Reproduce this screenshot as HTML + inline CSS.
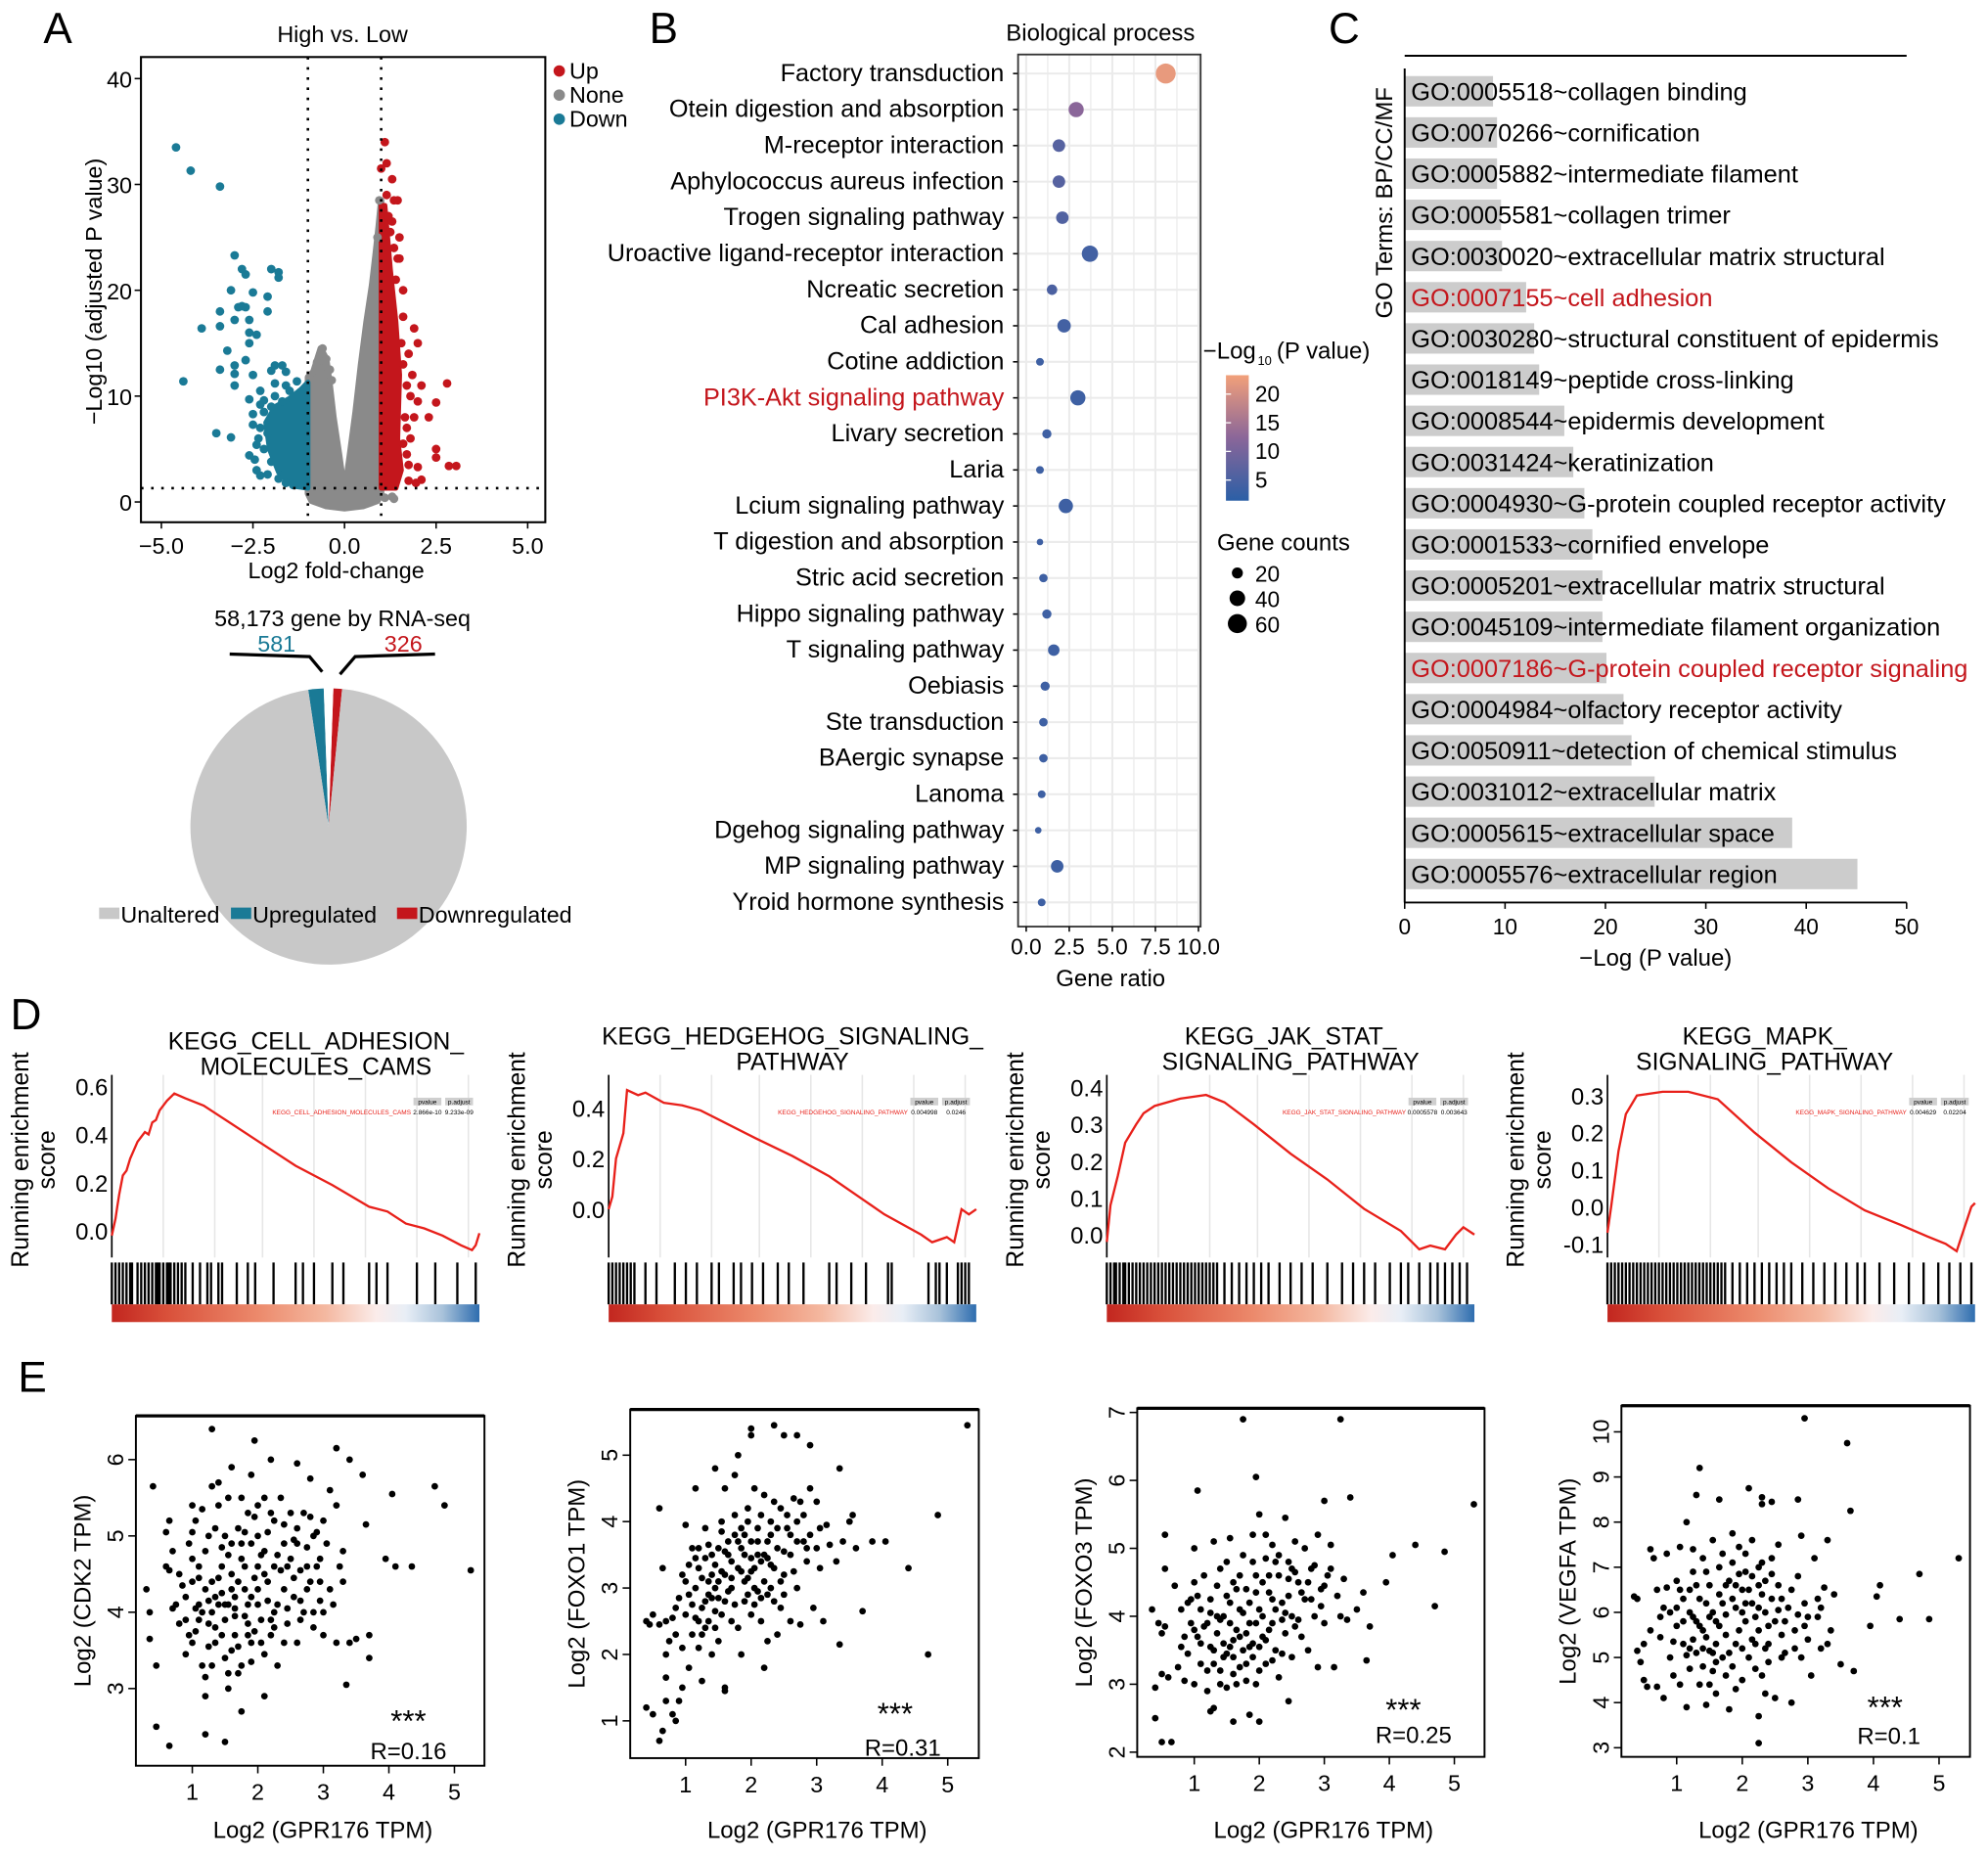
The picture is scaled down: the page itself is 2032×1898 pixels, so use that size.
<!DOCTYPE html>
<html><head><meta charset="utf-8">
<style>
html,body{margin:0;padding:0;background:#fff;}
svg{display:block;font-family:"Liberation Sans",Arial,sans-serif;}
</style></head>
<body>
<svg id="fig" xmlns="http://www.w3.org/2000/svg" width="2032" height="1898" viewBox="0 0 1568 1465">
<defs>
<linearGradient id="pgrad" x1="0" y1="1" x2="0" y2="0"><stop offset="0" stop-color="#2b5fa6"/><stop offset="0.5" stop-color="#8a6699"/><stop offset="1" stop-color="#f2a07a"/></linearGradient>
<linearGradient id="heat" x1="0" y1="0" x2="1" y2="0"><stop offset="0" stop-color="#c2261f"/><stop offset="0.15" stop-color="#d9503a"/><stop offset="0.4" stop-color="#ec8a6c"/><stop offset="0.58" stop-color="#f4b8a0"/><stop offset="0.72" stop-color="#fbecea"/><stop offset="0.8" stop-color="#e8eef6"/><stop offset="0.9" stop-color="#a8c2da"/><stop offset="1" stop-color="#2e6daf"/></linearGradient>
</defs>
<g id="root"></g>
</svg>
<script>
// ---------- DATA ----------
const volcanoBlue=[[-4.6,33.5],[-4.2,31.3],[-3.4,29.8],[-4.4,11.4],[-3.5,6.5],[-3.1,6.1],[-3.0,23.3],[-2.8,22],[-2.7,21.5],[-2.0,22],[-1.8,21.7],[-1.8,21.2],[-3.1,20],[-2.5,19.8],[-2.1,19.4],[-3.4,18],[-2.9,18.4],[-2.8,18.5],[-2.7,18.4],[-2.1,18],[-3.9,16.4],[-3.4,16.6],[-3.0,17.2],[-2.6,17.2],[-2.6,16],[-2.4,15.8],[-2.6,15],[-3.2,14.3],[-2.7,13.4],[-3.0,12.9],[-3.4,12.5],[-3.0,12.1],[-2.5,12],[-2.0,12.4],[-1.9,12.9],[-1.7,12.9],[-1.6,12.3],[-3.0,11.0],[-2.3,10.5],[-1.3,11.4],[-2.6,9.7],[-2.3,9.2],[-2.5,7.3],[-2.4,5.4],[-2.6,4.4],[-2.4,3.0],[-2.3,2.5],[-1.5,10.5],[-1.9,10.0],[-1.2,10.4],[-2.2,8.5],[-2.0,9.0],[-1.7,9.5],[-2.1,6.5],[-2.2,5.0],[-2.0,3.8],[-1.8,2.2],[-1.6,1.8],[-1.4,1.6],[-2.3,7.0],[-2.35,6.0],[-2.2,9.6],[-1.9,11.2],[-1.6,11.0],[-2.5,8.3],[-2.45,4.0],[-2.1,2.6]];
const volcanoBlueArea=[[-1,1.3],[-1.4,1.5],[-1.8,2.8],[-2.05,5.0],[-2.15,7.5],[-1.9,9.0],[-1.5,9.8],[-1.2,10.6],[-1,11.3]];
const volcanoGrayArea=[[-1,0.8],[-1,11.8],[-0.85,12.3],[-0.65,14.5],[-0.5,13.5],[-0.4,11],[-0.3,8],[-0.15,4.5],[-0.05,2],[0.05,2],[0.15,4.5],[0.3,8.5],[0.45,13],[0.6,17],[0.75,20.5],[0.85,23.5],[0.93,26],[1.0,28.5],[1.0,0.8],[0.9,0.1],[0.5,-0.4],[0,-0.6],[-0.5,-0.4],[-0.9,0.1]];
const volcanoGray=[[-0.6,14.5],[-0.5,13.5],[-0.4,12.5],[-0.55,12],[1.3,0.5],[1.35,0.3],[0.95,28.5],[0.9,25],[-0.7,12.8],[1.1,0.4],[-0.75,13.2],[-0.35,11.5]];
const volcanoRedArea=[[1,1.3],[1,28],[1.1,28],[1.25,22],[1.4,17],[1.5,12],[1.45,6],[1.55,3],[1.4,1.3]];
const volcanoRed=[[1.1,34],[1.15,32],[1.0,31.5],[1.3,30.5],[1.15,29],[1.45,28.5],[1.35,28.5],[1.2,27],[1.3,26.5],[1.25,25.5],[1.45,23],[1.5,23],[1.6,17.5],[1.9,16.4],[2.0,15],[1.75,14],[2.1,11],[2.8,11.2],[2.0,9.5],[2.5,9.4],[1.9,8],[2.3,8],[1.8,6],[2.5,5],[2.5,4.2],[2.85,3.4],[3.05,3.4],[2.1,2.1],[1.95,1.8],[2.0,3.3],[1.7,4.5],[1.7,11],[1.8,10],[1.65,8],[1.75,2.0],[1.6,20],[1.4,21],[1.55,15],[1.6,13],[1.7,7],[1.6,5.5],[1.75,3.5],[1.85,12],[1.5,25],[1.35,24]];
const volcanoXTicks=[-5,-2.5,0,2.5,5];
const volcanoXTickLabels=["−5.0","−2.5","0.0","2.5","5.0"];
const volcanoYTicks=[0,10,20,30,40];
const pieLabels=["Unaltered","Upregulated","Downregulated"];
const pieValues=[57266,581,326];
const bpTerms=["Factory transduction","Otein digestion and absorption","M-receptor interaction","Aphylococcus aureus infection","Trogen signaling pathway","Uroactive ligand-receptor interaction","Ncreatic secretion","Cal adhesion","Cotine addiction","PI3K-Akt signaling pathway","Livary secretion","Laria","Lcium signaling pathway","T digestion and absorption","Stric acid secretion","Hippo signaling pathway","T signaling pathway","Oebiasis","Ste transduction","BAergic synapse","Lanoma","Dgehog signaling pathway","MP signaling pathway","Yroid hormone synthesis"];
const bpRatio=[8.1,2.9,1.9,1.9,2.1,3.7,1.5,2.2,0.8,3.0,1.2,0.8,2.3,0.8,1.0,1.2,1.6,1.1,1.0,1.0,0.9,0.7,1.8,0.9];
const bpLogP=[21,12,6.5,6.5,6,4.5,5.5,4.5,4,4,4,4,4,4,4,4,4,4,4,4,4,4,4,4];
const bpCount=[66,38,26,26,26,44,18,30,10,38,14,10,34,7,12,14,22,14,12,12,10,7,26,10];
const bpXTicks=[0,2.5,5,7.5,10];
const bpXTickLabels=["0.0","2.5","5.0","7.5","10.0"];
const bpColorTicks=[20,15,10,5];
const bpSizeTicks=[20,40,60];
const goTerms=["GO:0005518~collagen binding","GO:0070266~cornification","GO:0005882~intermediate filament","GO:0005581~collagen trimer","GO:0030020~extracellular matrix structural","GO:0007155~cell adhesion","GO:0030280~structural constituent of epidermis","GO:0018149~peptide cross-linking","GO:0008544~epidermis development","GO:0031424~keratinization","GO:0004930~G-protein coupled receptor activity","GO:0001533~cornified envelope","GO:0005201~extracellular matrix structural","GO:0045109~intermediate filament organization","GO:0007186~G-protein coupled receptor signaling","GO:0004984~olfactory receptor activity","GO:0050911~detection of chemical stimulus","GO:0031012~extracellular matrix","GO:0005615~extracellular space","GO:0005576~extracellular region"];
const goValues=[8.8,9.2,9.2,9.6,9.7,12.1,12.9,13.4,15.9,16.8,17.9,18.7,19.7,19.7,20.1,21.8,22.6,24.9,38.6,45.1];
const goHighlight=[5,14];
const goXTicks=[0,10,20,30,40,50];
const gseaTitles=[["KEGG_CELL_ADHESION_","MOLECULES_CAMS"],["KEGG_HEDGEHOG_SIGNALING_","PATHWAY"],["KEGG_JAK_STAT_","SIGNALING_PATHWAY"],["KEGG_MAPK_","SIGNALING_PATHWAY"]];
const gseaNames=["KEGG_CELL_ADHESION_MOLECULES_CAMS","KEGG_HEDGEHOG_SIGNALING_PATHWAY","KEGG_JAK_STAT_SIGNALING_PATHWAY","KEGG_MAPK_SIGNALING_PATHWAY"];
const gseaP=["2.866e-10","0.004998","0.0005578","0.004629"];
const gseaPadj=["9.233e-09","0.0246","0.003643","0.02204"];
const gseaTicks1=[0,0.2,0.4,0.6];
const gseaTicks2=[0,0.2,0.4];
const gseaTicks3=[0,0.1,0.2,0.3,0.4];
const gseaTicks4=[-0.1,0,0.1,0.2,0.3];
const gseaCurve1=[[0,-0.02],[0.01,0.05],[0.015,0.1],[0.02,0.15],[0.03,0.23],[0.04,0.25],[0.05,0.3],[0.07,0.37],[0.08,0.39],[0.09,0.41],[0.1,0.4],[0.11,0.45],[0.12,0.46],[0.13,0.5],[0.15,0.54],[0.17,0.57],[0.2,0.55],[0.25,0.52],[0.3,0.47],[0.4,0.37],[0.5,0.27],[0.6,0.19],[0.7,0.1],[0.75,0.08],[0.8,0.03],[0.85,0.01],[0.9,-0.02],[0.95,-0.06],[0.98,-0.08],[0.99,-0.06],[1.0,-0.01]];
const gseaCurve2=[[0,0.0],[0.01,0.05],[0.02,0.2],[0.03,0.25],[0.04,0.3],[0.05,0.47],[0.08,0.45],[0.1,0.46],[0.15,0.42],[0.2,0.41],[0.25,0.39],[0.4,0.28],[0.5,0.21],[0.6,0.13],[0.7,0.03],[0.75,-0.02],[0.8,-0.06],[0.85,-0.1],[0.88,-0.13],[0.92,-0.11],[0.94,-0.13],[0.96,0.0],[0.98,-0.02],[1.0,0.0]];
const gseaCurve3=[[0,-0.02],[0.01,0.08],[0.03,0.16],[0.05,0.25],[0.08,0.3],[0.1,0.33],[0.13,0.35],[0.2,0.37],[0.27,0.38],[0.32,0.36],[0.4,0.3],[0.5,0.22],[0.6,0.15],[0.7,0.07],[0.8,0.01],[0.85,-0.04],[0.88,-0.03],[0.92,-0.04],[0.95,0.0],[0.97,0.02],[1.0,0.0]];
const gseaCurve4=[[0,-0.07],[0.01,0.0],[0.03,0.15],[0.05,0.25],[0.08,0.3],[0.15,0.31],[0.22,0.31],[0.3,0.29],[0.4,0.2],[0.5,0.12],[0.6,0.05],[0.7,-0.01],[0.8,-0.05],[0.87,-0.08],[0.92,-0.1],[0.95,-0.12],[0.97,-0.06],[0.99,0.0],[1.0,0.01]];
const gseaHits1=[0,0.01,0.02,0.03,0.04,0.05,0.055,0.07,0.08,0.09,0.1,0.11,0.12,0.125,0.13,0.14,0.15,0.155,0.16,0.17,0.18,0.19,0.2,0.22,0.24,0.26,0.27,0.29,0.3,0.34,0.37,0.39,0.44,0.5,0.52,0.55,0.6,0.63,0.7,0.72,0.75,0.83,0.88,0.94,0.99];
const gseaHits2=[0,0.01,0.02,0.03,0.04,0.05,0.06,0.07,0.1,0.13,0.18,0.21,0.24,0.28,0.3,0.34,0.36,0.39,0.42,0.46,0.49,0.53,0.6,0.62,0.66,0.7,0.76,0.77,0.87,0.89,0.9,0.92,0.95,0.96,0.97,0.98];
const gseaHits3=[0,0.01,0.02,0.025,0.035,0.045,0.05,0.06,0.07,0.08,0.09,0.1,0.11,0.12,0.13,0.14,0.15,0.16,0.17,0.18,0.19,0.2,0.21,0.22,0.23,0.24,0.25,0.26,0.27,0.28,0.29,0.3,0.32,0.34,0.36,0.38,0.4,0.42,0.44,0.47,0.5,0.53,0.56,0.6,0.64,0.67,0.7,0.73,0.77,0.8,0.82,0.85,0.88,0.9,0.92,0.94,0.96,0.98];
const gseaHits4=[0,0.01,0.02,0.03,0.04,0.05,0.06,0.07,0.08,0.09,0.1,0.11,0.12,0.13,0.14,0.15,0.16,0.17,0.18,0.19,0.2,0.21,0.22,0.23,0.24,0.25,0.26,0.27,0.28,0.29,0.3,0.31,0.32,0.34,0.36,0.38,0.4,0.42,0.44,0.46,0.48,0.5,0.53,0.56,0.59,0.62,0.65,0.68,0.7,0.74,0.78,0.82,0.86,0.9,0.93,0.96,0.99];
const gseaGrid=[0.14,0.28,0.41,0.55,0.69,0.83,0.97];
const sc1=[[0.4,5.65],[0.3,4.3],[0.35,4.0],[0.35,3.65],[0.45,3.3],[0.45,2.5],[0.65,2.25],[1.2,2.4],[1.5,2.3],[1.75,2.7],[1.2,2.9],[2.1,2.9],[3.35,3.05],[4.7,5.65],[4.85,5.4],[5.25,4.55],[4.1,4.6],[4.35,4.6],[3.95,4.7],[1.3,6.4],[1.95,6.25],[3.2,6.15],[3.4,6.0],[3.6,5.8],[3.7,3.4],[4.05,5.55],[3.65,5.15],[3.7,3.7],[3.4,3.6],[3.5,3.65],[0.6,5.05],[0.65,5.2],[0.6,4.6],[0.65,4.55],[0.7,4.8],[0.8,4.5],[0.75,4.1],[0.7,4.05],[0.8,3.85],[0.9,4.2],[0.95,3.7],[1.0,3.6],[0.9,3.45],[1.0,4.4],[1.0,4.7],[1.0,5.05],[1.0,5.4],[1.05,5.2],[1.1,4.6],[1.1,4.1],[1.1,3.9],[1.15,3.3],[1.2,3.15],[1.25,3.55],[1.2,4.3],[1.2,4.8],[1.25,5.0],[1.3,5.65],[1.3,4.4],[1.3,4.0],[1.35,3.8],[1.4,5.4],[1.4,5.7],[1.45,4.85],[1.45,4.6],[1.5,4.1],[1.5,3.9],[1.5,3.4],[1.55,3.2],[1.55,5.5],[1.6,5.9],[1.6,4.9],[1.6,4.5],[1.65,4.2],[1.65,3.7],[1.7,3.2],[1.7,5.1],[1.75,5.5],[1.75,4.7],[1.8,4.3],[1.8,3.95],[1.85,3.7],[1.85,5.3],[1.9,5.8],[1.9,4.9],[1.9,4.2],[1.95,3.75],[2.0,5.0],[2.0,4.6],[2.0,4.1],[2.05,3.6],[2.1,5.5],[2.1,4.8],[2.15,4.4],[2.2,3.9],[2.2,6.0],[2.25,5.2],[2.25,4.6],[2.3,4.1],[2.3,3.3],[2.35,5.5],[2.4,4.9],[2.4,4.3],[2.45,3.85],[2.5,5.3],[2.5,4.7],[2.55,4.2],[2.6,5.95],[2.6,3.6],[2.65,4.55],[2.7,5.3],[2.7,4.0],[2.75,4.85],[2.8,5.75],[2.8,4.4],[2.85,3.8],[2.9,5.05],[2.9,4.6],[2.95,4.15],[3.0,5.2],[3.0,3.7],[3.05,4.9],[3.1,5.6],[3.1,4.3],[3.2,3.6],[3.2,5.4],[3.25,4.6],[3.3,4.4],[3.3,4.8],[1.35,4.2],[1.55,4.1],[1.7,4.4],[2.0,4.3],[2.1,4.5],[1.8,4.6],[1.4,4.1],[2.3,4.75],[2.6,4.9],[1.95,5.25],[1.15,4.0],[2.45,4.6],[1.05,4.05],[1.25,4.15],[1.45,4.25],[1.65,4.05],[1.85,4.1],[2.05,4.75],[2.25,4.0],[2.55,4.95],[2.75,4.3],[2.95,4.7],[1.6,3.5],[1.9,3.6],[2.2,3.7],[1.35,3.6],[1.75,3.3],[2.15,5.05],[1.5,5.0],[2.85,5.0],[0.85,4.35],[0.95,4.9],[1.15,5.35],[1.35,5.1],[1.55,4.75],[1.75,4.9],[1.95,4.45],[2.15,4.15],[2.35,4.55],[2.55,4.45],[2.75,4.6],[2.95,4.4],[1.05,3.75],[1.25,3.85],[1.45,3.7],[1.65,3.95],[1.85,3.85],[2.05,3.9],[2.25,3.8],[2.45,4.05],[2.65,4.15],[2.85,4.0],[1.4,4.45],[1.6,4.3],[1.8,5.05],[2.0,5.4],[2.2,5.3],[2.4,5.15],[2.6,5.1],[2.8,5.25],[1.7,3.55],[1.9,3.35],[2.1,3.45],[2.4,3.6],[1.3,3.3],[1.55,3.0],[2.65,3.9],[3.0,4.0],[3.15,4.1],[1.1,4.45],[0.9,3.9]];
const sc2=[[0.4,1.2],[0.5,1.1],[0.6,0.7],[0.65,0.85],[0.7,1.3],[0.8,1.1],[0.85,1.0],[0.9,1.3],[0.95,1.5],[0.7,1.65],[0.7,2.0],[0.6,4.2],[5.3,5.45],[4.85,4.1],[4.7,2.0],[4.4,3.3],[3.7,2.65],[3.35,2.15],[3.35,4.8],[1.6,1.5],[1.6,1.45],[2.2,1.8],[2.0,5.4],[2.35,5.45],[2.5,5.3],[2.7,5.3],[2.9,5.15],[2.0,5.3],[1.8,5.0],[3.85,3.7],[4.05,3.7],[0.4,2.5],[0.45,2.45],[0.5,2.6],[0.6,2.45],[0.65,3.3],[0.7,2.5],[0.8,2.55],[0.85,2.3],[0.9,2.85],[0.95,3.2],[0.95,2.1],[1.0,2.6],[1.0,3.95],[1.05,2.9],[1.05,1.8],[1.1,3.6],[1.1,2.3],[1.15,4.5],[1.15,3.0],[1.2,3.3],[1.2,2.1],[1.25,2.7],[1.25,1.6],[1.3,3.9],[1.3,2.4],[1.35,3.1],[1.35,2.9],[1.4,3.5],[1.4,2.0],[1.45,4.8],[1.45,2.65],[1.5,3.6],[1.5,2.2],[1.55,3.25],[1.55,4.0],[1.6,2.8],[1.6,4.5],[1.65,3.5],[1.7,2.5],[1.7,3.0],[1.75,4.7],[1.75,3.8],[1.8,3.3],[1.8,2.4],[1.85,3.9],[1.85,2.0],[1.9,3.5],[1.9,2.8],[1.95,4.2],[1.95,3.15],[2.0,3.7],[2.0,2.6],[2.05,3.3],[2.05,4.5],[2.1,2.95],[2.1,3.9],[2.15,3.4],[2.15,2.5],[2.2,4.4],[2.2,3.1],[2.25,3.7],[2.25,2.2],[2.3,3.35],[2.3,4.0],[2.35,2.8],[2.4,3.6],[2.4,2.3],[2.45,4.2],[2.5,3.2],[2.5,2.9],[2.55,3.9],[2.6,3.5],[2.6,2.5],[2.65,4.35],[2.7,3.7],[2.7,3.0],[2.75,2.45],[2.8,4.1],[2.85,3.4],[2.9,4.5],[2.9,3.8],[2.95,2.7],[3.0,3.6],[3.0,4.3],[3.05,3.3],[3.1,2.5],[3.15,3.95],[3.2,3.65],[3.3,3.4],[3.4,3.7],[3.5,4.0],[3.6,3.6],[3.55,4.1],[1.2,3.6],[1.3,2.8],[1.5,3.1],[1.7,3.4],[1.9,3.1],[2.1,3.5],[2.3,3.0],[1.6,3.2],[2.0,3.25],[1.4,2.85],[1.1,2.75],[1.25,3.15],[1.45,3.35],[1.65,3.7],[1.85,3.6],[2.05,3.0],[2.25,3.45],[2.45,3.1],[2.65,3.25],[2.85,3.6],[1.35,2.5],[1.55,2.6],[1.75,2.75],[1.95,2.9],[2.15,2.85],[2.35,3.3],[1.2,2.5],[1.0,3.1],[1.05,3.35],[1.15,2.55],[1.3,3.45],[1.4,3.2],[1.5,2.85],[1.6,3.55],[1.7,3.15],[1.8,3.7],[1.9,3.8],[2.0,3.45],[2.1,3.7],[2.2,3.5],[2.3,3.8],[2.4,3.9],[2.5,3.55],[2.6,3.8],[2.7,4.0],[2.8,3.7],[1.45,3.0],[1.65,2.95],[1.85,3.25],[2.05,2.75],[2.25,2.9],[2.45,2.7],[1.15,3.45],[1.35,3.65],[1.55,3.85],[1.75,4.1],[1.95,4.0],[2.15,4.1],[2.35,4.3],[2.55,4.1],[2.75,4.3],[3.05,3.9],[1.25,2.3],[1.45,2.4],[0.85,2.7],[0.75,2.2]];
const sc3=[[0.35,4.1],[0.4,2.5],[0.5,2.15],[0.65,2.15],[0.4,2.95],[0.5,3.15],[0.55,5.2],[0.55,4.7],[1.05,5.85],[1.75,6.9],[3.25,6.9],[1.95,6.05],[5.3,5.65],[4.85,4.95],[4.7,4.15],[4.4,5.05],[4.05,4.9],[3.95,4.5],[3.7,3.85],[3.65,3.35],[3.4,5.75],[3.0,5.7],[1.6,2.45],[2.0,2.45],[1.85,2.55],[2.45,2.75],[1.25,2.6],[1.3,2.65],[0.45,3.9],[0.5,3.75],[0.55,3.85],[0.6,3.1],[0.7,4.45],[0.75,3.25],[0.8,3.55],[0.8,4.1],[0.85,3.05],[0.9,4.2],[0.9,3.45],[0.95,3.9],[1.0,4.5],[1.0,3.0],[1.0,5.0],[1.05,3.7],[1.1,4.1],[1.1,3.3],[1.15,4.6],[1.2,3.9],[1.2,2.9],[1.25,4.25],[1.3,3.5],[1.3,5.1],[1.35,4.0],[1.4,3.2],[1.4,4.7],[1.45,3.6],[1.5,4.3],[1.5,2.95],[1.55,3.9],[1.55,5.15],[1.6,3.4],[1.6,4.5],[1.65,3.0],[1.7,4.1],[1.7,3.7],[1.75,4.9],[1.8,3.3],[1.8,4.4],[1.85,3.9],[1.9,5.2],[1.9,3.6],[1.95,4.6],[1.95,3.0],[2.0,4.1],[2.0,5.5],[2.05,3.7],[2.1,4.85],[2.1,3.3],[2.15,4.35],[2.2,3.9],[2.2,5.05],[2.25,3.5],[2.3,4.6],[2.3,3.1],[2.35,4.2],[2.4,5.45],[2.4,3.75],[2.45,4.8],[2.5,4.0],[2.5,3.4],[2.55,5.1],[2.6,4.5],[2.65,3.7],[2.7,4.25],[2.7,5.0],[2.75,3.5],[2.8,4.7],[2.85,4.0],[2.9,3.25],[2.9,5.2],[2.95,4.4],[3.0,3.9],[3.05,4.6],[3.1,5.05],[3.2,4.3],[3.3,4.55],[3.35,3.95],[3.5,4.1],[3.6,4.35],[3.15,3.25],[1.45,4.0],[1.65,3.8],[1.85,4.2],[2.05,4.5],[2.25,4.1],[1.35,3.75],[1.55,3.55],[1.75,3.5],[2.15,3.8],[2.45,4.3],[1.25,3.55],[1.95,3.9],[1.15,3.85],[1.4,3.95],[1.6,3.65],[1.8,3.75],[2.0,3.55],[2.2,4.25],[2.4,4.05],[2.6,3.95],[2.8,4.25],[3.0,4.45],[1.3,3.3],[1.5,3.45],[1.7,3.25],[1.9,3.4],[2.1,3.65],[2.35,3.45],[1.05,4.3],[2.55,4.65],[0.95,4.25],[1.1,3.6],[1.25,4.05],[1.35,4.45],[1.45,3.4],[1.55,4.2],[1.65,4.4],[1.75,4.05],[1.85,3.55],[1.95,4.35],[2.05,4.0],[2.15,4.6],[2.25,4.8],[2.35,3.95],[2.45,4.55],[2.55,3.85],[2.65,4.35],[2.75,4.5],[2.85,4.75],[2.95,4.15],[1.2,3.2],[1.4,3.0],[1.6,3.15],[1.8,3.05],[2.0,3.2],[2.2,3.35],[1.5,4.8],[1.7,4.6],[1.9,4.8],[2.1,5.2],[2.3,4.9],[2.5,4.7],[1.0,3.8],[0.85,3.7],[3.1,4.7],[3.25,4.0]];
const sc4=[[2.95,10.3],[3.6,9.75],[1.35,9.2],[3.65,8.25],[5.3,7.2],[4.7,6.85],[4.85,5.85],[4.4,5.85],[4.05,6.35],[4.1,6.6],[3.95,5.7],[2.25,3.1],[2.25,3.7],[3.7,4.7],[3.5,4.85],[0.35,6.35],[0.4,6.3],[1.3,8.6],[1.65,8.5],[2.1,8.75],[2.3,8.55],[2.45,8.45],[2.85,8.5],[2.3,8.4],[0.4,5.15],[0.45,4.9],[0.5,4.5],[0.5,5.3],[0.55,4.35],[0.6,5.6],[0.6,7.4],[0.65,7.2],[0.7,6.5],[0.7,4.35],[0.75,5.45],[0.8,6.1],[0.8,4.1],[0.85,7.3],[0.9,5.0],[0.9,6.0],[0.95,4.6],[1.0,5.7],[1.0,6.7],[1.05,4.4],[1.05,7.45],[1.1,5.3],[1.1,6.3],[1.15,3.9],[1.15,8.0],[1.2,4.75],[1.2,6.0],[1.25,5.9],[1.25,7.4],[1.3,5.1],[1.3,6.6],[1.35,4.4],[1.4,5.6],[1.4,7.2],[1.45,3.95],[1.45,6.2],[1.5,5.15],[1.5,6.6],[1.55,4.7],[1.55,7.6],[1.6,5.8],[1.6,4.2],[1.65,6.4],[1.7,5.0],[1.7,7.3],[1.75,5.5],[1.8,6.7],[1.8,3.85],[1.85,7.75],[1.85,4.8],[1.9,6.1],[1.9,5.3],[1.95,7.45],[2.0,6.5],[2.0,4.5],[2.05,5.8],[2.05,6.9],[2.1,5.0],[2.15,7.6],[2.15,6.2],[2.2,4.75],[2.25,6.6],[2.25,5.6],[2.3,7.1],[2.35,4.2],[2.35,6.0],[2.4,5.3],[2.45,6.85],[2.5,4.1],[2.5,5.8],[2.55,7.5],[2.6,6.3],[2.65,5.1],[2.7,6.1],[2.75,4.0],[2.8,5.6],[2.85,6.8],[2.9,5.0],[2.9,7.7],[2.95,6.2],[3.0,5.4],[3.05,4.6],[3.1,7.2],[3.15,5.9],[3.2,5.2],[3.25,6.55],[3.3,7.6],[3.35,5.6],[3.4,6.4],[3.2,6.1],[1.3,5.8],[1.5,5.9],[1.7,6.2],[1.9,6.6],[2.1,6.5],[2.3,6.4],[2.0,6.0],[1.6,5.3],[2.4,5.7],[1.4,5.2],[2.2,5.9],[2.6,5.5],[1.0,6.1],[1.2,6.5],[1.45,5.45],[1.65,5.7],[1.85,6.3],[2.05,6.2],[2.25,6.1],[2.45,6.3],[2.65,5.8],[2.85,5.95],[1.1,5.8],[1.35,6.3],[1.55,6.0],[1.75,6.6],[1.95,5.6],[2.15,5.4],[2.35,5.2],[2.55,6.6],[1.25,5.4],[1.75,4.6],[0.95,5.35],[1.15,5.05],[1.35,5.7],[1.55,5.1],[1.75,5.95],[1.95,6.85],[2.15,6.8],[2.35,6.7],[2.55,6.05],[2.75,6.5],[2.95,5.7],[3.15,6.3],[1.05,6.5],[1.25,6.9],[1.45,6.9],[1.65,7.0],[1.85,7.1],[2.05,7.3],[2.25,7.0],[2.45,7.2],[1.2,5.2],[1.4,4.8],[1.6,4.9],[1.8,5.1],[2.0,5.2],[2.2,5.3],[2.4,4.9],[2.6,5.0],[2.8,5.2],[3.0,5.9],[1.5,4.4],[1.9,4.3],[2.3,4.6],[0.75,5.9],[0.85,6.55],[3.3,5.3]];
const scXTicks=[1,2,3,4,5];
const scYTicks1=[3,4,5,6];
const scYTicks2=[1,2,3,4,5];
const scYTicks3=[2,3,4,5,6,7];
const scYTicks4=[3,4,5,6,7,8,9,10];
const scYLabels=["Log2 (CDK2 TPM)","Log2 (FOXO1 TPM)","Log2 (FOXO3 TPM)","Log2 (VEGFA TPM)"];
const scR=["R=0.16","R=0.31","R=0.25","R=0.1"];

// ---------- HELPERS ----------
const NS="http://www.w3.org/2000/svg";
const root=document.getElementById('root');
function mk(tag,attrs,parent){const e=document.createElementNS(NS,tag);for(const k in attrs)e.setAttribute(k,attrs[k]);(parent||root).appendChild(e);return e;}
function tx(str,x,y,size,anchor,parent,extra){const e=mk('text',Object.assign({x:x,y:y,'font-size':size,'text-anchor':anchor||'start',fill:'#000'},extra||{}),parent);e.textContent=str;return e;}
function grp(parent){return mk('g',{},parent);}

const letters=[["A",34,34],["B",512,34],["C",1048,34],["D",8,812],["E",14,1098]];
letters.forEach(l=>{const t=tx(l[0],l[1],l[2],34,'start');

});

// ---------- PANEL A: VOLCANO ----------
(function(){
const g=grp();


const L=111,R=430,T=45,B=412;
const ax=v=>271.6+28.9*v, ay=v=>396-8.35*v;
const t=tx("High vs. Low",270,33,18,'middle',g);


const pts=(arr)=>arr.map(p=>ax(p[0]).toFixed(1)+','+ay(p[1]).toFixed(1)).join(' ');
const ga=mk('polygon',{points:pts(volcanoGrayArea),fill:'#8a8a8a',stroke:'#8a8a8a','stroke-width':5,'stroke-linejoin':'round'},g);


const ba=mk('polygon',{points:pts(volcanoBlueArea),fill:'#1a7a96',stroke:'#1a7a96','stroke-width':4,'stroke-linejoin':'round'},g);


const ra=mk('polygon',{points:pts(volcanoRedArea),fill:'#c4161c',stroke:'#c4161c','stroke-width':4,'stroke-linejoin':'round'},g);


[[volcanoGray,'#8a8a8a','none'],[volcanoBlue,'#1a7a96','down'],[volcanoRed,'#c4161c','up']].forEach(s=>{
 s[0].forEach(p=>{const c=mk('circle',{cx:ax(p[0]),cy:ay(p[1]),r:3.4,fill:s[1]},g);
 
 });
});
[-1,1].forEach(v=>{const l=mk('line',{x1:ax(v),x2:ax(v),y1:T,y2:B,stroke:'#000','stroke-width':2,'stroke-dasharray':'2,6'},g);

});
const hl=mk('line',{x1:L,x2:R,y1:ay(1.3),y2:ay(1.3),stroke:'#000','stroke-width':2,'stroke-dasharray':'2,6'},g);


const box=mk('rect',{x:L,y:T,width:R-L,height:B-T,fill:'none',stroke:'#000','stroke-width':1.6},g);


volcanoXTicks.forEach((v,i)=>{const k=mk('line',{x1:ax(v),x2:ax(v),y1:B,y2:B+5,stroke:'#000','stroke-width':1.2},g);


const lb=tx(volcanoXTickLabels[i],ax(v),B+25,18,'middle',g);

});
volcanoYTicks.forEach(v=>{const k=mk('line',{x1:L-5,x2:L,y1:ay(v),y2:ay(v),stroke:'#000','stroke-width':1.2},g);


const lb=tx(String(v),L-7,ay(v)+7,18,'end',g);

});
const xt=tx("Log2 fold-change",265,456,18,'middle',g);


const yt=tx("−Log10 (adjusted P value)",0,0,18,'middle',g,{transform:'translate(80,230) rotate(-90)'});


[["Up",'#c4161c',62],["None",'#8a8a8a',81],["Down",'#1a7a96',100]].forEach(e=>{
 const c=mk('circle',{cx:441,cy:e[2]-6,r:4.5,fill:e[1]},g);
 
 
 const lt=tx(e[0],449,e[2],18,'start',g);
 
 
});
})();

// ---------- PANEL A: PIE ----------
(function(){
const g=grp();


const cx=259,cy=652,r=109;
const total=pieValues.reduce((a,b)=>a+b,0);
const cols=['#c8c8c8','#1a7a96','#c4161c'];
const ang=pieValues.map(v=>v/total*360*1.8);
const gap=2;
const slices=[[-(ang[1])-gap, -gap,1],[gap,gap+ang[2],2],[gap+ang[2],360-ang[1]-gap,0]];
function pt(a,rr,ox,oy){const t=(a-90)*Math.PI/180;return [ox+rr*Math.cos(t),oy+rr*Math.sin(t)];}
slices.forEach(s=>{
 const o=[cx,cy];
 const p1=pt(s[0],r,o[0],o[1]),p2=pt(s[1],r,o[0],o[1]);
 const large=(s[1]-s[0])>180?1:0;
 const p=mk('path',{d:`M${o[0]},${o[1]} L${p1[0]},${p1[1]} A${r},${r} 0 ${large} 1 ${p2[0]},${p2[1]} Z`,fill:cols[s[2]]},g);
 
 
});
const gp=mk('path',{d:`M${cx},${cy} L${pt(-gap,r+1,cx,cy).join(',')} L${pt(gap,r+1,cx,cy).join(',')} Z`,fill:'#fff'},g);


const tt=tx("58,173 gene by RNA-seq",270,494,18,'middle',g);


const n1=tx(String(pieValues[1]),218,514,18,'middle',g,{fill:'#1a7a96'});


const n2=tx(String(pieValues[2]),318,514,18,'middle',g,{fill:'#c4161c'});


const l1=mk('polyline',{points:'181,516 244,518 254,530',fill:'none',stroke:'#000','stroke-width':2.5},g);


const l2=mk('polyline',{points:'343,516 280,518 268,532',fill:'none',stroke:'#000','stroke-width':2.5},g);


[[78,'Unaltered'],[182,'Upregulated'],[313,'Downregulated']].forEach((e,i)=>{
 const s=mk('rect',{x:e[0],y:716,width:16,height:9,fill:cols[i]},g);
 
 
 const lt=tx(pieLabels[i],e[0]+17,728,18,'start',g);
 
 
});
})();

// ---------- PANEL B: DOT PLOT ----------
(function(){
const g=grp();


const L=803,R=947,T=43,B=731;
const bx=v=>809.4+13.59*v, by=i=>58+i*28.43;
const title=tx("Biological process",868,32,18.5,'middle',g);


for(let v=0;v<=10.01;v+=1.25){const l=mk('line',{x1:bx(v),x2:bx(v),y1:T,y2:B,stroke:'#ebebeb','stroke-width':Math.abs(v/2.5-Math.round(v/2.5))<0.01?1.6:1},g);

}
bpTerms.forEach((t,i)=>{const l=mk('line',{x1:L,x2:R,y1:by(i),y2:by(i),stroke:'#ebebeb','stroke-width':1.6},g);

});
const stops=[[2,[43,95,166]],[12,[138,102,153]],[22,[242,160,122]]];
function col(v){v=Math.max(2,Math.min(22,v));let a=stops[0],b=stops[1];if(v>12){a=stops[1];b=stops[2];}const f=(v-a[0])/(b[0]-a[0]);return 'rgb('+a[1].map((c,k)=>Math.round(c+(b[1][k]-c)*f)).join(',')+')';}
const rad=c=>0.97*Math.sqrt(c);
bpTerms.forEach((t,i)=>{
 const d=mk('circle',{cx:bx(bpRatio[i]),cy:by(i),r:rad(bpCount[i]),fill:col(bpLogP[i])},g);
 
 
 const lb=tx(t,792,by(i)+6,19.5,'end',g,{fill:i===9?'#c4161c':'#000'});
 
 
 const k=mk('line',{x1:L-4,x2:L,y1:by(i),y2:by(i),stroke:'#000','stroke-width':1.2},g);
 
 
});
const fr=mk('rect',{x:L,y:T,width:R-L,height:B-T,fill:'none',stroke:'#333','stroke-width':1.4},g);


bpXTicks.forEach((v,i)=>{const k=mk('line',{x1:bx(v),x2:bx(v),y1:B,y2:B+4,stroke:'#000','stroke-width':1.2},g);


const lb=tx(bpXTickLabels[i],bx(v),B+22,17.5,'middle',g);

});
const xt=tx("Gene ratio",876,778,18.5,'middle',g);


const ct=tx("−Log",949,283,18.5,'start',g);


const ct2=tx("10",992,288,10,'start',g);


const ct3=tx("(P value)",1007,283,18.5,'start',g);


const cb=mk('rect',{x:967,y:296,width:18,height:99,fill:'url(#pgrad)'},g);


const cy=v=>395-(v-1.4)*(99/21.9);
bpColorTicks.forEach(v=>{const lb=tx(String(v),990,cy(v)+6,17.5,'start',g);


const k=mk('line',{x1:967,x2:971,y1:cy(v),y2:cy(v),stroke:'#fff','stroke-width':1},g);

});
const st=tx("Gene counts",960,434,18.5,'start',g);


bpSizeTicks.forEach((v,i)=>{const c=mk('circle',{cx:976,cy:452+i*20,r:rad(v),fill:'#000'},g);


const lb=tx(String(v),990,459+i*20,17.5,'start',g);

});
})();

// ---------- PANEL C: GO BAR ----------
(function(){
const g=grp();


const L=1108,T=44,B=712;
const cx=v=>1108+7.92*v, cy=i=>72+i*32.5;
const top=mk('line',{x1:L,x2:1504,y1:T,y2:T,stroke:'#000','stroke-width':1.5},g);


goTerms.forEach((t,i)=>{
 const b=mk('rect',{x:L,y:cy(i)-12,width:cx(goValues[i])-L,height:24,fill:'#cccccc'},g);
 
 
 const lb=tx(t,1113,cy(i)+7,19.6,'start',g,{fill:goHighlight.includes(i)?'#c4161c':'#000'});
 
 
});
const ya=mk('line',{x1:L,x2:L,y1:T+10,y2:B,stroke:'#000','stroke-width':1.5},g);


const xa=mk('line',{x1:L,x2:cx(50),y1:B,y2:B,stroke:'#000','stroke-width':1.5},g);


goXTicks.forEach(v=>{const k=mk('line',{x1:cx(v),x2:cx(v),y1:B,y2:B+5,stroke:'#000','stroke-width':1.2},g);


const lb=tx(String(v),cx(v),B+25,17.5,'middle',g);

});
const xt=tx("−Log (P value)",1306,762,18.5,'middle',g);


const yt=tx("GO Terms: BP/CC/MF",0,0,18.5,'middle',g,{transform:'translate(1098,160) rotate(-90)'});


})();

// ---------- PANEL D: GSEA ----------
(function(){
const cfg=[
 {L:88,y0:971,unit:190,ticks:gseaTicks1,curve:gseaCurve1,hits:gseaHits1,tx:249,ty:828},
 {L:480,y0:954,unit:200,ticks:gseaTicks2,curve:gseaCurve2,hits:gseaHits2,tx:625,ty:824},
 {L:873,y0:974,unit:290,ticks:gseaTicks3,curve:gseaCurve3,hits:gseaHits3,tx:1018,ty:824},
 {L:1268,y0:952,unit:292.5,ticks:gseaTicks4,curve:gseaCurve4,hits:gseaHits4,tx:1392,ty:824}];
cfg.forEach((c,pi)=>{
 const g=grp();
 
 
 const W=290,T=848,B=992,bT=996,bB=1029,hB=1043;
 const gx=f=>c.L+f*W, gy=v=>c.y0-v*c.unit;
 gseaGrid.forEach(f=>{const l=mk('line',{x1:gx(f),x2:gx(f),y1:T,y2:B,stroke:'#e6e6e6','stroke-width':1.2},g);
 
 });
 const t1=tx(gseaTitles[pi][0],c.tx,c.ty,19,'middle',g);
 
 
 const t2=tx(gseaTitles[pi][1],c.tx,c.ty+20,19,'middle',g);
 
 
 const ax=mk('line',{x1:c.L,x2:c.L,y1:T,y2:B,stroke:'#000','stroke-width':1.3},g);
 
 
 c.ticks.forEach(v=>{const lb=tx(v.toFixed(1),c.L-3,gy(v)+7,18.5,'end',g);
 
 });
 const y1=tx("Running enrichment",0,0,19,'middle',g,{transform:`translate(${c.L-66},915) rotate(-90)`});
 
 
 const y2=tx("score",0,0,19,'middle',g,{transform:`translate(${c.L-45},915) rotate(-90)`});
 
 
 const ln=mk('polyline',{points:c.curve.map(p=>gx(p[0]).toFixed(1)+','+gy(p[1]).toFixed(1)).join(' '),fill:'none',stroke:'#e8201a','stroke-width':1.8},g);
 
 
 const r1=mk('rect',{x:c.L+W-52,y:T+18,width:22,height:6,fill:'#cfcfcf'},g);
 
 
 const r2=mk('rect',{x:c.L+W-27,y:T+18,width:22,height:6,fill:'#cfcfcf'},g);
 
 
 const h1=tx("pvalue",c.L+W-41,T+23,5,'middle',g);
 
 
 const h2=tx("p.adjust",c.L+W-16,T+23,5,'middle',g);
 
 
 const nm=tx(gseaNames[pi],c.L+W-54,T+31,5,'end',g,{fill:'#e8201a'});
 
 
 const pv=tx(gseaP[pi],c.L+W-41,T+31,5,'middle',g);
 
 
 const pa=tx(gseaPadj[pi],c.L+W-16,T+31,5,'middle',g);
 
 
 c.hits.forEach(f=>{const l=mk('line',{x1:gx(f),x2:gx(f),y1:bT,y2:bB,stroke:'#000','stroke-width':1.8},g);
 
 });
 const hm=mk('rect',{x:c.L,y:bB,width:W,height:hB-bB,fill:'url(#heat)'},g);
 
 
});
})();

// ---------- PANEL E: SCATTER ----------
(function(){
const cfg=[
 {L:107,T:1117,W:275,H:276,x1:151.5,xu:51.7,yv:6,yp:1151.5,yu:60.2,data:sc1,ticks:scYTicks1,star:[322,1366],r:[322,1388]},
 {L:497,T:1112,W:275,H:275,x1:540.7,xu:51.7,yv:5,yp:1148,yu:52.4,data:sc2,ticks:scYTicks2,star:[706,1360],r:[712,1385]},
 {L:897,T:1111,W:274,H:275,x1:942,xu:51.3,yv:7,yp:1114.3,yu:53.6,data:sc3,ticks:scYTicks3,star:[1107,1357],r:[1115,1375]},
 {L:1279,T:1109,W:275,H:277,x1:1322.6,xu:51.75,yv:10,yp:1129.6,yu:35.6,data:sc4,ticks:scYTicks4,star:[1487,1355],r:[1490,1376]}];
cfg.forEach((c,pi)=>{
 const g=grp();
 
 
 const sx=v=>c.x1+(v-1)*c.xu, sy=v=>c.yp+(c.yv-v)*c.yu;
 c.data.forEach(p=>{const d=mk('circle',{cx:sx(p[0]).toFixed(1),cy:sy(p[1]).toFixed(1),r:2.6,fill:'#000'},g);
 
 });
 const fr=mk('rect',{x:c.L,y:c.T,width:c.W,height:c.H,fill:'none',stroke:'#000','stroke-width':1.5},g);
 
 
 const tp=mk('line',{x1:c.L,x2:c.L+c.W,y1:c.T,y2:c.T,stroke:'#000','stroke-width':2.5},g);
 
 
 scXTicks.forEach(v=>{const k=mk('line',{x1:sx(v),x2:sx(v),y1:c.T+c.H,y2:c.T+c.H+6,stroke:'#000','stroke-width':1.2},g);
 
 
 const lb=tx(String(v),sx(v),c.T+c.H+27,18,'middle',g);
 
 });
 c.ticks.forEach(v=>{const k=mk('line',{x1:c.L-6,x2:c.L,y1:sy(v),y2:sy(v),stroke:'#000','stroke-width':1.2},g);
 
 
 const lb=tx(String(v),0,0,18,'middle',g,{transform:`translate(${c.L-10},${sy(v)}) rotate(-90)`});
 
 });
 const st=tx("***",c.star[0],c.star[1],24,'middle',g);
 
 
 const rr=tx(scR[pi],c.r[0],c.r[1],18.5,'middle',g);
 
 
 const xt=tx("Log2 (GPR176 TPM)",c.L+c.W/2+10,1450,18.5,'middle',g);
 
 
 const yt=tx(scYLabels[pi],0,0,18.5,'middle',g,{transform:`translate(${c.L-36},${c.T+c.H/2}) rotate(-90)`});
 
 
});
})();
</script>
</body></html>
